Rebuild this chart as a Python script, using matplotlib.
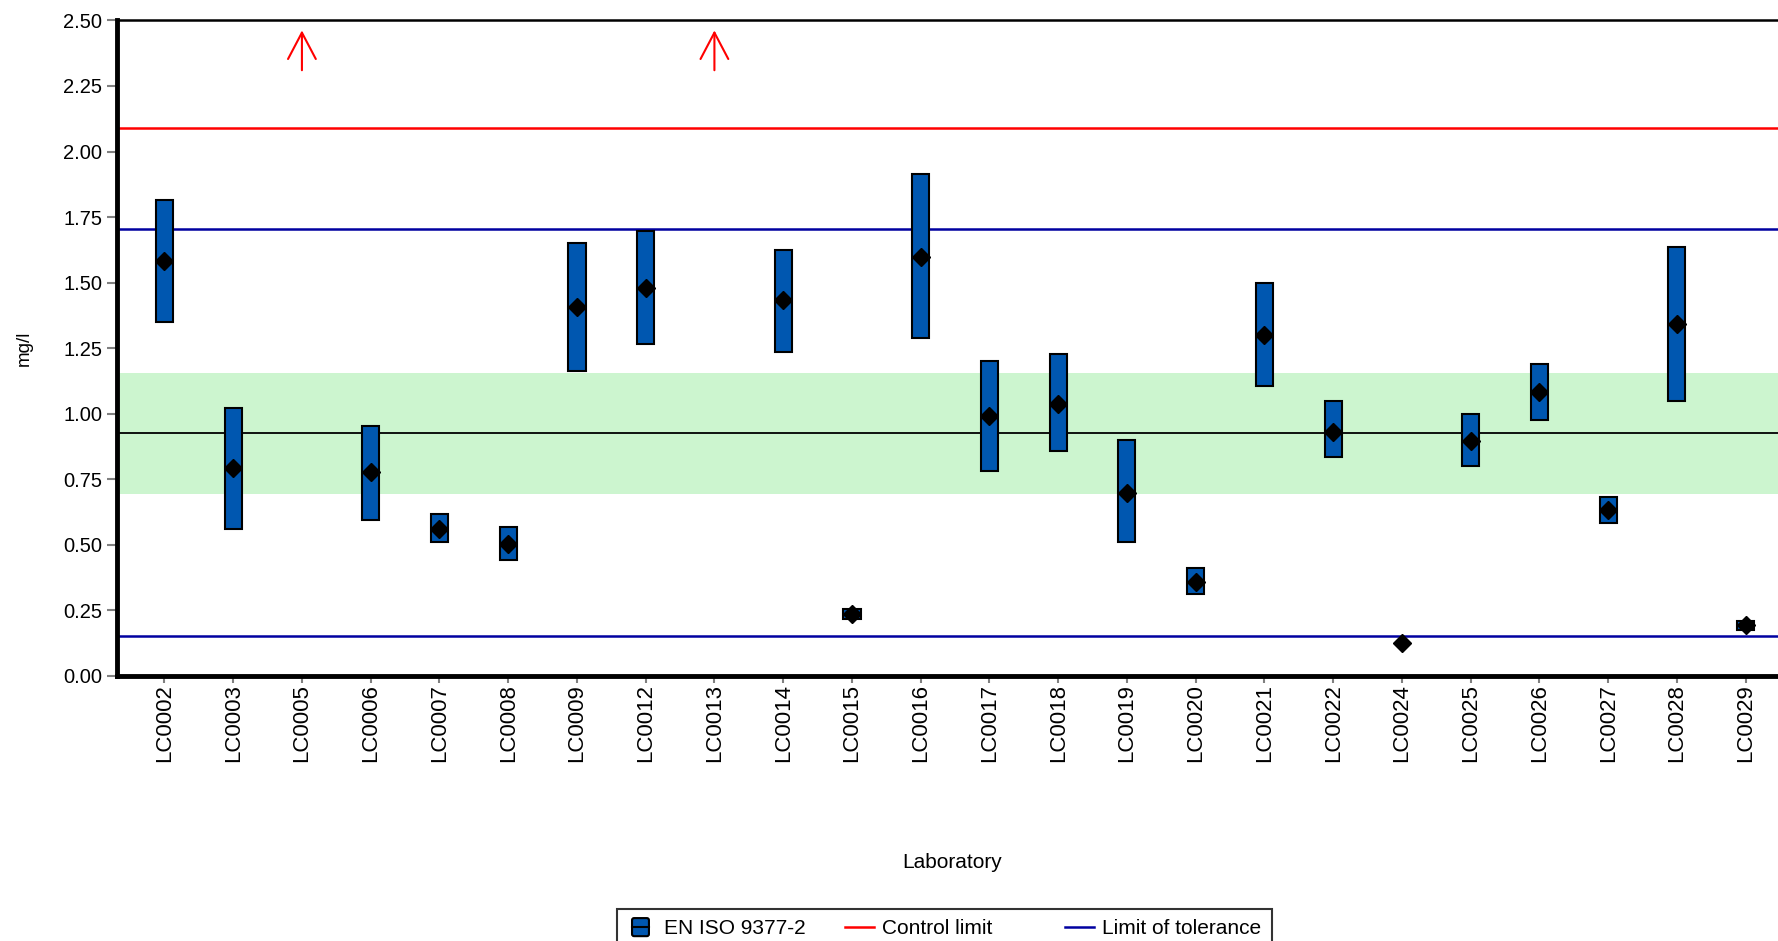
import numpy as np
import matplotlib
matplotlib.use('Agg')
import matplotlib.pyplot as plt
from matplotlib.patches import FancyBboxPatch
from matplotlib.lines import Line2D
from matplotlib.legend_handler import HandlerBase

plt.rcParams['font.family'] = ['Liberation Sans', 'DejaVu Sans']

# data
labs = ['LC0002', 'LC0003', 'LC0005', 'LC0006', 'LC0007', 'LC0008', 'LC0009',
        'LC0012', 'LC0013', 'LC0014', 'LC0015', 'LC0016', 'LC0017', 'LC0018',
        'LC0019', 'LC0020', 'LC0021', 'LC0022', 'LC0024', 'LC0025', 'LC0026',
        'LC0027', 'LC0028', 'LC0029']
nan = np.nan
upper = [1.817, 1.021, nan, 0.952, 0.619, 0.567, 1.652, 1.696, nan, 1.626, 0.255,
         1.916, 1.202, 1.228, 0.900, 0.411, 1.497, 1.047, nan, 0.999, 1.189,
         0.683, 1.635, 0.208]
lower = [1.349, 0.562, nan, 0.593, 0.510, 0.441, 1.163, 1.267, nan, 1.237, 0.216,
         1.289, 0.783, 0.856, 0.510, 0.311, 1.107, 0.835, nan, 0.800, 0.977,
         0.584, 1.047, 0.177]
mean = [1.583, 0.792, nan, 0.779, 0.562, 0.502, 1.406, 1.479, nan, 1.432, 0.238,
        1.596, 0.990, 1.038, 0.696, 0.359, 1.302, 0.930, 0.125, 0.895, 1.081,
        0.631, 1.341, 0.195]
above_range = ['LC0005', 'LC0013']

assigned = 0.926
band_low, band_high = 0.692, 1.155
control_limit = 2.089
tol_low, tol_high = 0.151, 1.704

BLUE = '#0057b0'


class BoxHandler(HandlerBase):
    # small blue box with a line through the middle, as in the reference legend
    def create_artists(self, legend, orig, xd, yd, w, h, fs, trans):
        bw, bh = 1.16 * h, 1.24 * h
        cx, cy = w - 5.5 - bw / 2 - xd, h / 2 - yd
        box = FancyBboxPatch((cx - bw / 2, cy - bh / 2), bw, bh,
                             boxstyle='round,pad=0,rounding_size=1.5',
                             facecolor=BLUE, edgecolor='black', lw=1.5, transform=trans)
        ln = Line2D([cx - bw / 2, cx + bw / 2], [cy, cy], color='black', lw=1.5,
                    transform=trans)
        return [box, ln]


fig = plt.figure(figsize=(17.78, 9.41), dpi=100)
ax = fig.add_axes([0.0658, 0.2817, 1.005 - 0.0658, 0.9783 - 0.2817])

x = np.arange(len(labs))
up = np.array(upper)
lo = np.array(lower)

ax.axhspan(band_low, band_high, color='#ccf5cf', zorder=0, lw=0)
ax.axhline(assigned, color='black', lw=1.3, zorder=1)
ax.axhline(control_limit, color='#ff0000', lw=1.8, zorder=1)
ax.axhline(tol_high, color='#0000a0', lw=1.8, zorder=1)
ax.axhline(tol_low, color='#0000a0', lw=1.8, zorder=1)

ok = ~np.isnan(up)
ax.bar(x[ok], up[ok] - lo[ok], bottom=lo[ok], width=0.25, color=BLUE,
       edgecolor='black', linewidth=1.5, zorder=3)
ax.plot(x, mean, 'D', color='black', ms=9, zorder=4, linestyle='none')

for lab in above_range:
    i = labs.index(lab)
    ax.annotate('', xy=(i, 2.462), xytext=(i, 2.31),
                arrowprops=dict(arrowstyle='->,head_length=0.95,head_width=0.5',
                                color='#ff0000', lw=1.5, mutation_scale=20,
                                shrinkA=0, shrinkB=0))

ax.set_xlim(-0.69, 23.6)
ax.set_ylim(0, 2.5)
ax.set_yticks(np.arange(0, 2.51, 0.25))
ax.set_yticklabels([f'{v:.2f}' for v in np.arange(0, 2.51, 0.25)])
ax.set_xticks(x)
ax.set_xticklabels(labs, rotation=90)
ax.tick_params(axis='both', colors='#808080', length=7, width=1.5,
               labelcolor='black', labelsize=14.5)
ax.tick_params(axis='x', length=5, pad=1, labelsize=16)

ax.spines['left'].set_linewidth(3.5)
ax.spines['bottom'].set_linewidth(3.5)
ax.spines['top'].set_linewidth(1.8)
ax.spines['right'].set_visible(False)

ax.set_ylabel('mg/l', fontsize=13.5, labelpad=22)
ax.set_xlabel('Laboratory', fontsize=15, labelpad=65)

h2 = Line2D([], [], color='#ff0000', lw=1.8)
h3 = Line2D([], [], color='#0000a0', lw=1.8)
leg = fig.legend(['box', h2, h3],
                 ['EN ISO 9377-2', 'Control limit      ', 'Limit of tolerance'],
                 loc='upper left', bbox_to_anchor=(617 / 1778, 1 - 909 / 941),
                 borderaxespad=0, ncol=3,
                 fontsize=15, frameon=True, fancybox=False, edgecolor='black',
                 handlelength=1.4, handletextpad=0.38, columnspacing=1.85,
                 borderpad=0.5,
                 handler_map={str: BoxHandler()})
leg.get_frame().set_linewidth(1.5)

fig.savefig('out.png', dpi=100)
